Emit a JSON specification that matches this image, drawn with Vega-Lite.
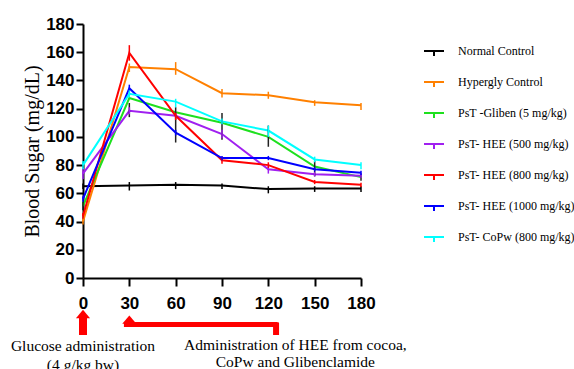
{
  "$schema": "https://vega.github.io/schema/vega-lite/v6.json",
  "width": 278,
  "height": 254,
  "autosize": {"type": "none"},
  "padding": {"left": 83, "top": 24, "right": 213, "bottom": 91},
  "background": "white",
  "config": {
    "view": {"stroke": null},
    "font": "Liberation Serif",
    "axis": {
      "grid": false,
      "domainColor": "black",
      "domainWidth": 2,
      "tickColor": "black",
      "tickWidth": 2,
      "labelColor": "black",
      "labelFont": "Liberation Sans",
      "labelFontWeight": "bold",
      "labelFontSize": 17,
      "labelOverlap": false,
      "labelFlush": false
    },
    "legend": {"labelFont": "Liberation Serif"},
    "text": {"font": "Liberation Serif"}
  },
  "datasets": {
    "bs": [
      {"t": 0, "series": "Normal Control", "v": 65, "lo": 63, "hi": 67},
      {"t": 30, "series": "Normal Control", "v": 65.5, "lo": 62, "hi": 68},
      {"t": 60, "series": "Normal Control", "v": 66, "lo": 63, "hi": 68},
      {"t": 90, "series": "Normal Control", "v": 65.5, "lo": 63, "hi": 67},
      {"t": 120, "series": "Normal Control", "v": 63, "lo": 60, "hi": 65},
      {"t": 150, "series": "Normal Control", "v": 63.5, "lo": 61, "hi": 65},
      {"t": 180, "series": "Normal Control", "v": 63.5, "lo": 61, "hi": 65},
      {"t": 0, "series": "Hypergly Control", "v": 40, "lo": 38, "hi": 42},
      {"t": 30, "series": "Hypergly Control", "v": 149.5, "lo": 146, "hi": 152},
      {"t": 60, "series": "Hypergly Control", "v": 148, "lo": 144, "hi": 153},
      {"t": 90, "series": "Hypergly Control", "v": 131, "lo": 128, "hi": 134},
      {"t": 120, "series": "Hypergly Control", "v": 129.5, "lo": 127, "hi": 132},
      {"t": 150, "series": "Hypergly Control", "v": 124.5, "lo": 122, "hi": 126},
      {"t": 180, "series": "Hypergly Control", "v": 122.5, "lo": 119, "hi": 124},
      {"t": 0, "series": "PsT -Gliben (5 mg/kg)", "v": 51, "lo": 48, "hi": 54},
      {"t": 30, "series": "PsT -Gliben (5 mg/kg)", "v": 127.5, "lo": 114, "hi": 124},
      {"t": 60, "series": "PsT -Gliben (5 mg/kg)", "v": 117.5, "lo": 96, "hi": 121},
      {"t": 90, "series": "PsT -Gliben (5 mg/kg)", "v": 110, "lo": 98, "hi": 117},
      {"t": 120, "series": "PsT -Gliben (5 mg/kg)", "v": 100, "lo": 93, "hi": 108},
      {"t": 150, "series": "PsT -Gliben (5 mg/kg)", "v": 79, "lo": 72, "hi": 83},
      {"t": 180, "series": "PsT -Gliben (5 mg/kg)", "v": 71.5, "lo": 69, "hi": 74},
      {"t": 0, "series": "PsT- HEE (500 mg/kg)", "v": 74, "lo": 70, "hi": 78},
      {"t": 30, "series": "PsT- HEE (500 mg/kg)", "v": 118.5, "lo": 116, "hi": 121},
      {"t": 60, "series": "PsT- HEE (500 mg/kg)", "v": 115, "lo": 113, "hi": 117},
      {"t": 90, "series": "PsT- HEE (500 mg/kg)", "v": 102, "lo": 99, "hi": 105},
      {"t": 120, "series": "PsT- HEE (500 mg/kg)", "v": 77, "lo": 74, "hi": 80},
      {"t": 150, "series": "PsT- HEE (500 mg/kg)", "v": 73.5, "lo": 72, "hi": 75},
      {"t": 180, "series": "PsT- HEE (500 mg/kg)", "v": 72.5, "lo": 71, "hi": 74},
      {"t": 0, "series": "PsT- HEE (800 mg/kg)", "v": 44, "lo": 42, "hi": 46},
      {"t": 30, "series": "PsT- HEE (800 mg/kg)", "v": 159.5, "lo": 154, "hi": 165},
      {"t": 60, "series": "PsT- HEE (800 mg/kg)", "v": 115, "lo": 112, "hi": 117},
      {"t": 90, "series": "PsT- HEE (800 mg/kg)", "v": 83.5, "lo": 81, "hi": 86},
      {"t": 120, "series": "PsT- HEE (800 mg/kg)", "v": 80, "lo": 78, "hi": 82},
      {"t": 150, "series": "PsT- HEE (800 mg/kg)", "v": 68, "lo": 66.5, "hi": 69.5},
      {"t": 180, "series": "PsT- HEE (800 mg/kg)", "v": 66, "lo": 64.5, "hi": 67.5},
      {"t": 0, "series": "PsT- HEE (1000 mg/kg)", "v": 56, "lo": 54, "hi": 58},
      {"t": 30, "series": "PsT- HEE (1000 mg/kg)", "v": 134.5, "lo": 132, "hi": 137},
      {"t": 60, "series": "PsT- HEE (1000 mg/kg)", "v": 103, "lo": 101, "hi": 105},
      {"t": 90, "series": "PsT- HEE (1000 mg/kg)", "v": 85, "lo": 83.5, "hi": 86.5},
      {"t": 120, "series": "PsT- HEE (1000 mg/kg)", "v": 85, "lo": 83.5, "hi": 86.5},
      {"t": 150, "series": "PsT- HEE (1000 mg/kg)", "v": 77, "lo": 75.5, "hi": 78.5},
      {"t": 180, "series": "PsT- HEE (1000 mg/kg)", "v": 74.5, "lo": 73, "hi": 76},
      {"t": 0, "series": "PsT- CoPw (800 mg/kg)", "v": 80, "lo": 77, "hi": 83},
      {"t": 30, "series": "PsT- CoPw (800 mg/kg)", "v": 130.5, "lo": 128, "hi": 133},
      {"t": 60, "series": "PsT- CoPw (800 mg/kg)", "v": 125, "lo": 121, "hi": 127},
      {"t": 90, "series": "PsT- CoPw (800 mg/kg)", "v": 111, "lo": 109, "hi": 113},
      {"t": 120, "series": "PsT- CoPw (800 mg/kg)", "v": 104.5, "lo": 100, "hi": 108},
      {"t": 150, "series": "PsT- CoPw (800 mg/kg)", "v": 84, "lo": 82, "hi": 86},
      {"t": 180, "series": "PsT- CoPw (800 mg/kg)", "v": 80, "lo": 77, "hi": 82}
    ]
  },
  "layer": [
    {
      "data": {"name": "bs"},
      "mark": {"type": "line", "clip": false},
      "encoding": {
        "x": {
          "field": "t", "type": "quantitative",
          "scale": {"domain": [0, 180], "nice": false},
          "axis": {"title": null, "values": [0, 30, 60, 90, 120, 150, 180], "tickSize": 8, "labelPadding": 9, "labelOverlap": false, "labelFlush": false}
        },
        "y": {
          "field": "v", "type": "quantitative",
          "scale": {"domain": [0, 180], "nice": false},
          "axis": {
            "title": "Blood Sugar (mg/dL)",
            "titleFont": "Liberation Serif",
            "titleFontWeight": "normal",
            "titleFontSize": 20,
            "titleColor": "black",
            "titlePadding": 3,
            "values": [0, 20, 40, 60, 80, 100, 120, 140, 160, 180],
            "tickCount": 10,
            "labelOverlap": false,
            "labelFlush": false,
            "tickSize": 7,
            "labelPadding": 2
          }
        },
        "color": {
          "field": "series", "type": "nominal",
          "scale": {
            "domain": ["Normal Control", "Hypergly Control", "PsT -Gliben (5 mg/kg)", "PsT- HEE (500 mg/kg)", "PsT- HEE (800 mg/kg)", "PsT- HEE (1000 mg/kg)", "PsT- CoPw (800 mg/kg)"],
            "range": ["#000000", "#FF8000", "#1EE01E", "#A020F0", "#FF0000", "#0000FF", "#00FFFF"]
          },
          "legend": {
            "orient": "none",
            "legendX": 340,
            "legendY": 16,
            "title": null,
            "padding": 0,
            "labelFont": "Liberation Serif",
            "labelFontSize": 12,
            "labelFontWeight": "normal",
            "labelColor": "black",
            "labelLimit": 220,
            "labelOffset": 13,
            "symbolType": "M-1,0H1M0,0V0.5",
            "symbolSize": 400,
            "symbolStrokeWidth": 2,
            "rowPadding": 11
          }
        },
        "strokeWidth": {
          "field": "series", "type": "nominal",
          "scale": {
            "domain": ["Normal Control", "Hypergly Control", "PsT -Gliben (5 mg/kg)", "PsT- HEE (500 mg/kg)", "PsT- HEE (800 mg/kg)", "PsT- HEE (1000 mg/kg)", "PsT- CoPw (800 mg/kg)"],
            "range": [2, 2, 2, 2, 2, 2, 4]
          },
          "legend": null
        }
      }
    },
    {
      "data": {"name": "bs"},
      "mark": {"type": "rule", "clip": false},
      "encoding": {
        "x": {"field": "t", "type": "quantitative"},
        "y": {"field": "lo", "type": "quantitative"},
        "y2": {"field": "hi"},
        "strokeWidth": {"value": 1.5},
        "color": {
          "condition": {"test": "datum.series === 'PsT -Gliben (5 mg/kg)'", "value": "#222222"},
          "field": "series", "type": "nominal"
        }
      }
    },
    {
      "data": {"values": [{"t": 0, "y": -27, "y2": -40.4}]},
      "mark": {"type": "rule", "clip": false, "color": "#FF0000", "strokeWidth": 8},
      "encoding": {
        "x": {"field": "t", "type": "quantitative"},
        "y": {"field": "y", "type": "quantitative"},
        "y2": {"field": "y2"}
      }
    },
    {
      "data": {"values": [{"t": 26.5, "t2": 126, "y": -33}]},
      "mark": {"type": "rule", "clip": false, "color": "#FF0000", "strokeWidth": 5},
      "encoding": {
        "x": {"field": "t", "type": "quantitative"},
        "x2": {"field": "t2"},
        "y": {"field": "y", "type": "quantitative"}
      }
    },
    {
      "data": {"values": [{"t": 125, "y": -31.5, "y2": -40.4}]},
      "mark": {"type": "rule", "clip": false, "color": "#FF0000", "strokeWidth": 6},
      "encoding": {
        "x": {"field": "t", "type": "quantitative"},
        "y": {"field": "y", "type": "quantitative"},
        "y2": {"field": "y2"}
      }
    },
    {
      "data": {"values": [{"t": 0, "y": -25.5}, {"t": 30, "y": -29.5}]},
      "mark": {"type": "point", "clip": false, "shape": "M0,-0.6L1,0.6L-1,0.6Z", "filled": true, "color": "#FF0000", "opacity": 1, "size": 200},
      "encoding": {
        "x": {"field": "t", "type": "quantitative"},
        "y": {"field": "y", "type": "quantitative"}
      }
    },
    {
      "data": {"values": [
        {"t": 0, "y": -48, "label": "Glucose administration"},
        {"t": 0, "y": -61.5, "label": "(4 g/kg bw)"},
        {"t": 137.5, "y": -47.5, "label": "Administration of HEE from cocoa,"},
        {"t": 137.5, "y": -59.5, "label": "CoPw and Glibenclamide"}
      ]},
      "mark": {"type": "text", "clip": false, "font": "Liberation Serif", "fontSize": 15.5, "fontWeight": "normal", "color": "black", "align": "center", "baseline": "middle"},
      "encoding": {
        "x": {"field": "t", "type": "quantitative"},
        "y": {"field": "y", "type": "quantitative"},
        "text": {"field": "label"}
      }
    }
  ]
}
